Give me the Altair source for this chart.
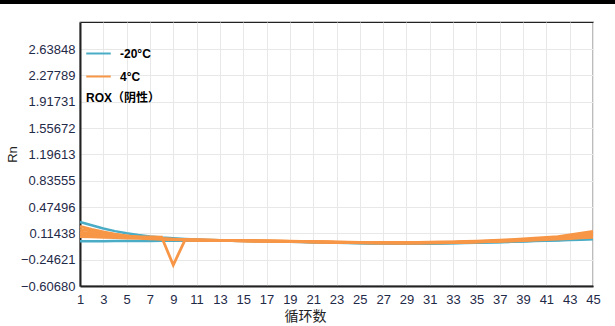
import altair as alt
import pandas as pd

cycles = list(range(1, 46))

blue_a = [0.27, 0.225, 0.18, 0.145, 0.115, 0.092, 0.073, 0.058, 0.047, 0.038,
          0.031, 0.025, 0.020, 0.016, 0.012, 0.009, 0.006, 0.003, 0.000, -0.003,
          -0.006, -0.009, -0.012, -0.015, -0.018, -0.020, -0.022, -0.023, -0.024, -0.024,
          -0.023, -0.021, -0.018, -0.015, -0.011, -0.007, -0.003, 0.002, 0.007, 0.012,
          0.018, 0.024, 0.030, 0.036, 0.042]
blue_b = [0.005, 0.006, 0.007, 0.008, 0.009, 0.010, 0.011, 0.012, 0.013, 0.014,
          0.014, 0.014, 0.013, 0.012, 0.011, 0.009, 0.007, 0.004, 0.001, -0.002,
          -0.006, -0.010, -0.014, -0.018, -0.021, -0.024, -0.026, -0.027, -0.028, -0.028,
          -0.027, -0.025, -0.022, -0.019, -0.015, -0.011, -0.007, -0.002, 0.003, 0.008,
          0.013, 0.018, 0.023, 0.028, 0.033]
orange_1 = [0.21, 0.17, 0.135, 0.105, 0.080, 0.060, 0.046, 0.036, 0.029, 0.024,
            0.021, 0.019, 0.017, 0.015, 0.013, 0.011, 0.009, 0.007, 0.005, 0.003,
            0.000, -0.003, -0.005, -0.007, -0.009, -0.010, -0.011, -0.011, -0.010, -0.009,
            -0.007, -0.004, -0.001, 0.003, 0.008, 0.014, 0.021, 0.029, 0.038, 0.048,
            0.059, 0.071, 0.093, 0.117, 0.140]
orange_2 = [0.17, 0.145, 0.12, 0.098, 0.078, 0.062, 0.049, 0.039, 0.031, 0.026,
            0.022, 0.020, 0.018, 0.016, 0.014, 0.012, 0.010, 0.008, 0.006, 0.003,
            0.001, -0.002, -0.005, -0.008, -0.010, -0.012, -0.013, -0.014, -0.014, -0.013,
            -0.011, -0.009, -0.006, -0.002, 0.002, 0.007, 0.013, 0.020, 0.028, 0.037,
            0.047, 0.062, 0.080, 0.100, 0.120]
orange_3 = [0.13, 0.115, 0.10, 0.086, 0.073, 0.062, 0.052, 0.043, 0.035, 0.029,
            0.024, 0.021, 0.018, 0.016, 0.014, 0.012, 0.010, 0.008, 0.005, 0.002,
            -0.001, -0.004, -0.007, -0.010, -0.012, -0.014, -0.015, -0.016, -0.016, -0.015,
            -0.013, -0.011, -0.008, -0.004, 0.000, 0.005, 0.011, 0.018, 0.026, 0.035,
            0.045, 0.056, 0.068, 0.084, 0.100]
orange_4 = [0.10, 0.09, 0.08, 0.072, 0.068, 0.066, 0.065, 0.064, -0.32, 0.022,
            0.020, 0.018, 0.016, 0.014, 0.012, 0.010, 0.008, 0.006, 0.004, 0.001,
            -0.002, -0.005, -0.008, -0.011, -0.013, -0.015, -0.016, -0.017, -0.017, -0.016,
            -0.014, -0.012, -0.009, -0.005, -0.001, 0.004, 0.009, 0.015, 0.022, 0.030,
            0.039, 0.049, 0.059, 0.070, 0.080]
orange_5 = [0.07, 0.065, 0.06, 0.055, 0.050, 0.045, 0.040, 0.036, 0.032, 0.028,
            0.024, 0.021, 0.018, 0.015, 0.012, 0.010, 0.007, 0.005, 0.002, -0.001,
            -0.004, -0.007, -0.010, -0.013, -0.015, -0.017, -0.018, -0.019, -0.019, -0.018,
            -0.016, -0.014, -0.011, -0.008, -0.004, 0.000, 0.005, 0.010, 0.016, 0.022,
            0.029, 0.036, 0.044, 0.052, 0.060]

y_ticks = [-0.60680, -0.24621, 0.11438, 0.47496, 0.83555, 1.19613,
           1.55672, 1.91731, 2.27789, 2.63848]
x_ticks = list(range(1, 46, 2))

blue_runs = {"b1": blue_a, "b2": blue_b}
orange_runs = {"o1": orange_1, "o2": orange_2, "o3": orange_3,
               "o4": orange_4, "o5": orange_5}

def build(runs, label):
    rows = []
    for run, vals in runs.items():
        for c, v in zip(cycles, vals):
            rows.append({"cycle": c, "rn": v, "run": run, "group": label})
    return pd.DataFrame(rows)

blue_df = build(blue_runs, "-20°C")
orange_df = build(orange_runs, "4°C")

FONT = "Liberation Sans, Noto Sans CJK SC"
LABEL_COLOR = "#1f2a48"

color = alt.Color(
    "group:N",
    scale=alt.Scale(domain=["-20°C", "4°C"], range=["#4bacc6", "#f79646"]),
    legend=alt.Legend(
        title=None, orient="none", legendX=5, legendY=18, symbolType="stroke",
        symbolSize=600, symbolStrokeWidth=2, labelFont=FONT, labelFontSize=12,
        labelFontWeight="bold", labelColor="#000", labelOffset=8, rowPadding=3,
        padding=0,
    ),
)

x = alt.X(
    "cycle:Q",
    scale=alt.Scale(domain=[1, 45], nice=False, zero=False),
    axis=alt.Axis(
        values=x_ticks, title="循环数", grid=True, labelAngle=0, tickSize=0,
        labelPadding=7, labelFontSize=13, labelColor=LABEL_COLOR, labelFont=FONT,
        titleFont=FONT, titleFontSize=14, titleFontWeight="normal", titleColor="#222",
        titleX=225, titleY=30, titleBaseline="middle",
        domainColor="#222", domainWidth=2, gridColor="#e8e8e8", labelFlush=False,
    ),
)
y = alt.Y(
    "rn:Q",
    scale=alt.Scale(domain=[-0.6068, 3.01], nice=False, zero=False),
    axis=alt.Axis(
        values=y_ticks, format=".5f", title="Rn", grid=True, tickSize=0,
        labelPadding=5, labelFontSize=13, labelColor=LABEL_COLOR, labelFont=FONT,
        titleFont=FONT, titleFontSize=13, titleFontWeight="normal", titleColor="#222",
        titleX=-68, titleY=132, titleAngle=-90, titleBaseline="middle",
        domainColor="#222", domainWidth=2, gridColor="#e8e8e8",
    ),
)

blue_layer = alt.Chart(blue_df).mark_line(strokeWidth=2.5).encode(
    x=x, y=y, color=color, detail="run:N", order="cycle:Q"
)
orange_layer = alt.Chart(orange_df).mark_line(strokeWidth=2.8).encode(
    x=x, y=y, color=color, detail="run:N", order="cycle:Q"
)

note = alt.Chart(pd.DataFrame({"t": ["ROX（阴性）"]})).mark_text(
    align="left", baseline="middle", font=FONT, fontSize=12, fontWeight="bold",
    color="#000"
).encode(text="t:N", x=alt.value(6), y=alt.value(76))

top_bar = alt.Chart(pd.DataFrame({"a": [0]})).mark_rule(
    color="#000", strokeWidth=4
).encode(x=alt.value(-80), x2=alt.value(535), y=alt.value(-20), y2=alt.value(-20))

chart = alt.layer(blue_layer, orange_layer, note, top_bar).properties(
    width=513, height=264,
    padding={"left": 80, "top": 22, "right": 22, "bottom": 40},
    autosize=alt.AutoSizeParams(type="none"),
    background="#ffffff",
).configure_view(stroke="#222", strokeWidth=1.2)

chart.save("out.html", embed_options={"renderer": "svg", "actions": False})
